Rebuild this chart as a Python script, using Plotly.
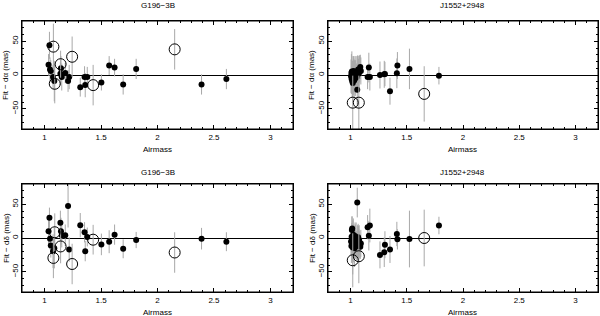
import plotly.graph_objects as go
from plotly.subplots import make_subplots

# G196-3B residuals
g196_x = [1.035, 1.043, 1.048, 1.055, 1.075, 1.086, 1.14, 1.145, 1.152, 1.183, 1.208, 1.218,
          1.316, 1.354, 1.36, 1.378, 1.503, 1.572, 1.62, 1.696, 1.811, 2.39, 2.61]
g196_da = [15, 44, 8, 6, -3, -9, 2, 10, -3, 3, -9, -3,
           -18, -3, -15, -3, -11, 14, 11, -14, 9, -14, -6]
g196_da_err = [16, 20, 18, 16, 18, 30, 17, 18, 20, 15, 16, 18,
               14, 16, 18, 15, 12, 14, 13, 15, 15, 15, 15]
g196_dd = [10, 30, -1, -11, -19.5, -15, 22.5, 10, 4, 4, 47.5, -17,
           19, 8.5, -19.5, 1.5, -9.5, -5.5, 5, -16, -3, -1, -5.5]
g196_dd_err = [20, 15, 16, 18, 25, 30, 18, 20, 18, 16, 32, 18,
               18, 15, 15, 14, 16, 17, 15, 14, 12, 16, 14]
g196_open_x = [1.078, 1.09, 1.142, 1.244, 1.43, 2.152]
g196_open_da = [42, -13, 16, 27, -15, 38]
g196_open_da_err = [34, 29, 20, 30, 30, 30]
g196_open_dd = [-29.5, 8.5, -12.5, -38.5, -2.5, -21.5]
g196_open_dd_err = [30, 28, 25, 30, 22, 30]

# J1552+2948 residuals
j1552_x = [1.005, 1.008, 1.01, 1.012, 1.015, 1.018, 1.02, 1.022, 1.025, 1.028, 1.03, 1.033,
           1.036, 1.04, 1.043, 1.046, 1.05, 1.055, 1.06, 1.063, 1.068, 1.072, 1.077, 1.082,
           1.087, 1.092, 1.152, 1.163, 1.172, 1.262, 1.3, 1.306, 1.351, 1.412, 1.417, 1.524, 1.786]
j1552_da = [-2, 3, -6, 5, -9, 1, -12, 4, -4, 6, -1, -8,
            2, 4, -5, 0, 3, -3, -22, 5, 8, 2, 4, 9,
            12, 6, -3, 11, -3, 0, 1, 1.5, -24, 2.5, 14, 9, -1]
j1552_da_err = [25, 28, 22, 30, 25, 20, 28, 24, 26, 22, 25, 28,
                20, 24, 26, 22, 25, 20, 22, 24, 20, 22, 25, 20,
                18, 20, 18, 22, 20, 20, 20, 18, 20, 22, 20, 30, 13]
j1552_dd = [-5, -12, 2, 12, 14, -8, -14, -3, 5, -10, 0, -6,
            -15, 3, -4, -9, -2, -12, 52.5, -5, 1, -7, -3, -10,
            -13, -8, 16, 3.5, 18.5, -25, -21, -10, -17, 6, -2, -1.5, 18.5]
j1552_dd_err = [22, 25, 20, 20, 18, 25, 40, 22, 24, 26, 20, 22,
                28, 20, 24, 22, 25, 22, 22, 24, 20, 25, 22, 20,
                18, 20, 18, 22, 25, 20, 22, 20, 20, 18, 15, 42, 13]
j1552_open_x = [1.02, 1.074, 1.655]
j1552_open_da = [-41, -41, -28]
j1552_open_da_err = [40, 40, 41]
j1552_open_dd = [-33, -27, 0]
j1552_open_dd_err = [40, 40, 42]

x_ticks = [1, 1.5, 2, 2.5, 3]
x_tick_text = ["1", "1.5", "2", "2.5", "3"]
y_ticks = [-50, 0, 50]
y_tick_text = ["\u221250", "0", "50"]

FONT = "Liberation Sans"
W, H = 600, 316

fig = make_subplots(rows=2, cols=2)

panels = [
    (1, 1, g196_x, g196_da, g196_da_err, g196_open_x, g196_open_da, g196_open_da_err),
    (1, 2, j1552_x, j1552_da, j1552_da_err, j1552_open_x, j1552_open_da, j1552_open_da_err),
    (2, 1, g196_x, g196_dd, g196_dd_err, g196_open_x, g196_open_dd, g196_open_dd_err),
    (2, 2, j1552_x, j1552_dd, j1552_dd_err, j1552_open_x, j1552_open_dd, j1552_open_dd_err),
]

for row, col, x, y, err, ox, oy, oerr in panels:
    fig.add_trace(go.Scatter(x=x, y=y, mode="markers",
                             marker=dict(color="black", size=6),
                             error_y=dict(type="data", array=err, color="#a8a8a8",
                                          thickness=1, width=0),
                             showlegend=False), row=row, col=col)
    fig.add_trace(go.Scatter(x=ox, y=oy, mode="markers",
                             marker=dict(symbol="circle-open", color="black", size=11,
                                         line=dict(width=1, color="black")),
                             error_y=dict(type="data", array=oerr, color="#a8a8a8",
                                          thickness=1, width=0),
                             showlegend=False), row=row, col=col)

# panel boxes in pixels: (left, right, top, bottom), plus title centre y
boxes = [(22, 293, 21, 129), (328, 598, 21, 129), (22, 293, 184, 292), (328, 598, 184, 292)]
title_y = [6, 6, 172, 172]
titles = ["G196\u22123B", "J1552+2948", "G196\u22123B", "J1552+2948"]
ytitles = ["Fit \u2212 d\u03b1 (mas)", "Fit \u2212 d\u03b1 (mas)",
           "Fit \u2212 d\u03b4 (mas)", "Fit \u2212 d\u03b4 (mas)"]

annotations = []
shapes = []
for i, (l, r, t, b) in enumerate(boxes):
    n = "" if i == 0 else str(i + 1)
    fig.layout["xaxis" + n].update(domain=[l / W, r / W], range=[0.8, 3.2],
                                   tickvals=x_ticks, ticktext=x_tick_text,
                                   ticks="inside", ticklen=4, tickcolor="black",
                                   showline=True, mirror="allticks", linecolor="black",
                                   linewidth=1, showgrid=False, zeroline=False,
                                   minor=dict(dtick=0.1, ticks="inside", ticklen=2,
                                              tickcolor="black", showgrid=False),
                                   tickfont=dict(size=8, color="black", family=FONT))
    fig.layout["yaxis" + n].update(domain=[1 - b / H, 1 - t / H], range=[-80, 80],
                                   tickvals=y_ticks, ticktext=y_tick_text, tickangle=-90,
                                   ticks="inside", ticklen=4, tickcolor="black",
                                   showline=True, mirror="allticks", linecolor="black",
                                   linewidth=1, showgrid=False,
                                   zeroline=True, zerolinecolor="black", zerolinewidth=1,
                                   minor=dict(dtick=10, ticks="inside", ticklen=2,
                                              tickcolor="black", showgrid=False),
                                   tickfont=dict(size=8, color="black", family=FONT))
    shapes.append(dict(type="rect", xref="x" + n + " domain", yref="y" + n + " domain",
                       x0=0, x1=1, y0=0, y1=1, line=dict(color="black", width=1)))
    cx = (l + r) / 2 / W
    common = dict(xref="paper", yref="paper", showarrow=False, xanchor="center",
                  yanchor="middle", font=dict(size=8, color="black", family=FONT))
    annotations.append(dict(text=titles[i], x=cx, y=1 - title_y[i] / H, **common))
    annotations.append(dict(text="Airmass", x=cx, y=1 - (b + 20) / H, **common))
    annotations.append(dict(text=ytitles[i], x=(l - 16) / W, y=1 - (t + b) / 2 / H,
                            textangle=-90, **common))

fig.update_layout(width=W, height=H, margin=dict(l=0, r=0, t=0, b=0),
                  paper_bgcolor="white", plot_bgcolor="white",
                  annotations=annotations, shapes=shapes)

# drop the default page margin so the figure sits at the window's corner
fig.write_html("out.html", config={"displayModeBar": False},
               post_script="document.body.style.margin='0';")
